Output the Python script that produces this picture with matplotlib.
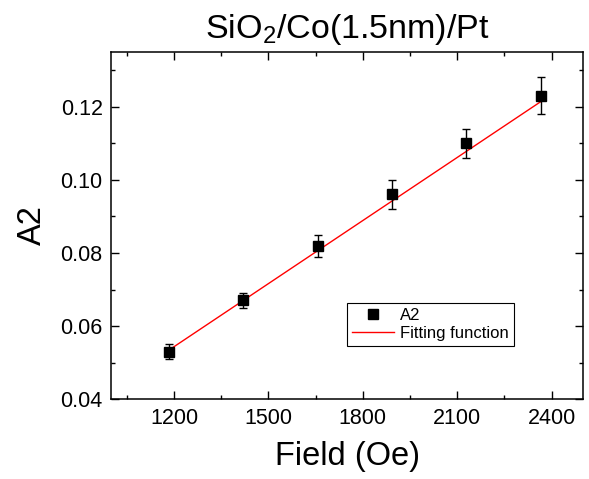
import numpy as np
import matplotlib.pyplot as plt
from matplotlib.ticker import MultipleLocator
from matplotlib.lines import Line2D

plt.rcParams['font.family'] = ['Liberation Sans', 'DejaVu Sans']
plt.rcParams['mathtext.fontset'] = 'custom'
plt.rcParams['mathtext.rm'] = 'Liberation Sans'

# data
field = [1185, 1421, 1657, 1893, 2129, 2365]
a2 = [0.053, 0.067, 0.082, 0.096, 0.110, 0.123]
a2_err = [0.002, 0.002, 0.003, 0.004, 0.004, 0.005]
# linear fit as drawn in the picture: A2 = slope * field + intercept
fit_slope = 5.746e-5
fit_intercept = -0.01459


def main():
    x = np.array(field)
    y = np.array(a2)
    err = np.array(a2_err)

    fig = plt.figure(figsize=(5.89, 4.79), dpi=100)
    ax = fig.add_axes([0.1885, 0.1664, 0.8013, 0.7257])

    ax.errorbar(x, y, yerr=err, fmt='s', color='black', ms=6.5,
                ecolor='black', elinewidth=1, capsize=3, capthick=1,
                zorder=3)
    xf = np.array([x.min(), x.max()])
    ax.plot(xf, fit_slope * xf + fit_intercept, color='red', lw=1, zorder=2)

    ax.set_xlim(1000, 2500)
    ax.set_ylim(0.04, 0.135)
    ax.set_xticks([1200, 1500, 1800, 2100, 2400])
    ax.xaxis.set_minor_locator(MultipleLocator(150))
    ax.yaxis.set_major_locator(MultipleLocator(0.02))
    ax.yaxis.set_minor_locator(MultipleLocator(0.01))
    ax.yaxis.set_major_formatter(plt.FormatStrFormatter('%.2f'))
    ax.tick_params(which='both', direction='in', top=True, right=True,
                   labelsize=15.5, width=1)
    ax.tick_params(which='major', length=6, pad=6)
    ax.tick_params(which='minor', length=3)
    for s in ax.spines.values():
        s.set_linewidth(1.1)

    ax.set_xlabel('Field (Oe)', fontsize=23.5, labelpad=9)
    ax.set_ylabel('A2', fontsize=23.5, labelpad=9)
    ax.set_title('SiO$_2$/Co(1.5nm)/Pt', fontsize=24.5, pad=10)

    handles = [Line2D([], [], ls='none', marker='s', color='black', ms=6.5),
               Line2D([], [], color='red', lw=1)]
    leg = ax.legend(handles, ['A2', 'Fitting function'],
                    loc='upper left', bbox_to_anchor=(0.5, 0.277),
                    borderaxespad=0, fontsize=12, handlelength=2.5,
                    fancybox=False, edgecolor='black', framealpha=1,
                    handletextpad=0.4, labelspacing=0.15, borderpad=0.3)
    leg.get_frame().set_linewidth(0.8)

    fig.savefig('out.png', dpi=100)


main()
